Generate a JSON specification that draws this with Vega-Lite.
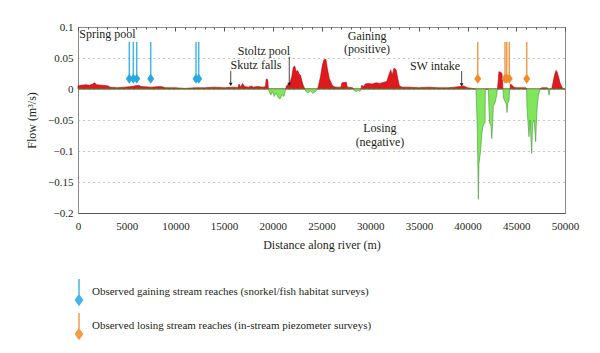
{
  "$schema": "https://vega.github.io/schema/vega-lite/v6.json",
  "width": 487,
  "height": 186,
  "autosize": {"type": "none"},
  "padding": {"left": 78, "top": 27, "right": 35, "bottom": 140},
  "background": "white",
  "config": {
    "font": "Liberation Serif",
    "view": {"stroke": "#8a8a8a", "strokeWidth": 1},
    "axis": {"labelFont": "Liberation Serif", "titleFont": "Liberation Serif", "labelFontSize": 11, "titleFontSize": 12, "labelColor": "#231f20", "titleColor": "#231f20", "titleFontWeight": "normal"}
  },
  "datasets": {
    "profile": [
      {"d": 0, "g": 0.005, "l": 0}, {"d": 300, "g": 0.006, "l": 0}, {"d": 800, "g": 0.007, "l": 0}, {"d": 1200, "g": 0.006, "l": 0},
      {"d": 1500, "g": 0.008, "l": 0}, {"d": 1700, "g": 0.01, "l": 0}, {"d": 1900, "g": 0.007, "l": 0}, {"d": 2500, "g": 0.006, "l": 0},
      {"d": 3100, "g": 0.005, "l": 0}, {"d": 3300, "g": 0.003, "l": 0}, {"d": 4000, "g": 0.002, "l": 0}, {"d": 4800, "g": 0.003, "l": 0},
      {"d": 5500, "g": 0.004, "l": 0}, {"d": 6200, "g": 0.006, "l": 0}, {"d": 6500, "g": 0.004, "l": 0}, {"d": 7500, "g": 0.003, "l": 0},
      {"d": 8500, "g": 0.004, "l": 0}, {"d": 9000, "g": 0.002, "l": 0}, {"d": 10000, "g": 0.002, "l": 0}, {"d": 11000, "g": 0.001, "l": 0},
      {"d": 12000, "g": 0.002, "l": 0}, {"d": 13000, "g": 0.002, "l": 0}, {"d": 14000, "g": 0.003, "l": 0}, {"d": 15000, "g": 0.002, "l": 0},
      {"d": 16000, "g": 0.003, "l": 0}, {"d": 16400, "g": 0.002, "l": 0}, {"d": 16550, "g": 0.008, "l": 0}, {"d": 16700, "g": 0.003, "l": 0},
      {"d": 16900, "g": 0.009, "l": 0}, {"d": 17100, "g": 0.004, "l": 0}, {"d": 17500, "g": 0.003, "l": 0}, {"d": 17800, "g": 0.005, "l": 0},
      {"d": 18000, "g": 0.003, "l": 0}, {"d": 18500, "g": 0.004, "l": 0}, {"d": 19000, "g": 0.003, "l": 0}, {"d": 19250, "g": 0.004, "l": 0},
      {"d": 19320, "g": 0.016, "l": 0}, {"d": 19480, "g": 0.015, "l": 0}, {"d": 19550, "g": 0, "l": 0},
      {"d": 19650, "g": 0, "l": -0.005}, {"d": 19800, "g": 0, "l": -0.01}, {"d": 19950, "g": 0, "l": -0.004}, {"d": 20150, "g": 0, "l": -0.012},
      {"d": 20350, "g": 0, "l": -0.006}, {"d": 20550, "g": 0, "l": -0.014}, {"d": 20750, "g": 0, "l": -0.016}, {"d": 20950, "g": 0, "l": -0.009},
      {"d": 21150, "g": 0, "l": -0.012}, {"d": 21320, "g": 0, "l": 0},
      {"d": 21400, "g": 0.005, "l": 0}, {"d": 21600, "g": 0.008, "l": 0}, {"d": 21800, "g": 0.012, "l": 0}, {"d": 21950, "g": 0.02, "l": 0},
      {"d": 22100, "g": 0.035, "l": 0}, {"d": 22250, "g": 0.037, "l": 0}, {"d": 22400, "g": 0.028, "l": 0}, {"d": 22550, "g": 0.03, "l": 0},
      {"d": 22700, "g": 0.024, "l": 0}, {"d": 22850, "g": 0.022, "l": 0}, {"d": 23000, "g": 0.012, "l": 0}, {"d": 23150, "g": 0.005, "l": 0},
      {"d": 23300, "g": 0, "l": 0},
      {"d": 23400, "g": 0, "l": -0.004}, {"d": 23600, "g": 0, "l": -0.006}, {"d": 23900, "g": 0, "l": -0.003}, {"d": 24100, "g": 0, "l": -0.007},
      {"d": 24400, "g": 0, "l": -0.004}, {"d": 24600, "g": 0, "l": 0},
      {"d": 24700, "g": 0.006, "l": 0}, {"d": 24900, "g": 0.02, "l": 0}, {"d": 25100, "g": 0.039, "l": 0}, {"d": 25250, "g": 0.047, "l": 0},
      {"d": 25450, "g": 0.048, "l": 0}, {"d": 25600, "g": 0.033, "l": 0}, {"d": 25800, "g": 0.017, "l": 0}, {"d": 26050, "g": 0.008, "l": 0},
      {"d": 26200, "g": 0.004, "l": 0}, {"d": 26500, "g": 0.003, "l": 0}, {"d": 27000, "g": 0.003, "l": 0}, {"d": 27100, "g": 0.01, "l": 0},
      {"d": 27550, "g": 0.011, "l": 0}, {"d": 27650, "g": 0.003, "l": 0}, {"d": 28200, "g": 0.002, "l": 0}, {"d": 28300, "g": 0, "l": 0},
      {"d": 28400, "g": 0, "l": -0.003}, {"d": 28600, "g": 0, "l": -0.004}, {"d": 28800, "g": 0, "l": -0.002}, {"d": 28950, "g": 0, "l": -0.004},
      {"d": 29050, "g": 0, "l": 0},
      {"d": 29130, "g": 0.006, "l": 0}, {"d": 29300, "g": 0.004, "l": 0}, {"d": 29500, "g": 0.008, "l": 0}, {"d": 29800, "g": 0.009, "l": 0},
      {"d": 30200, "g": 0.008, "l": 0}, {"d": 30600, "g": 0.01, "l": 0}, {"d": 31000, "g": 0.009, "l": 0}, {"d": 31400, "g": 0.011, "l": 0},
      {"d": 31700, "g": 0.012, "l": 0}, {"d": 31970, "g": 0.025, "l": 0}, {"d": 32110, "g": 0.031, "l": 0}, {"d": 32250, "g": 0.022, "l": 0},
      {"d": 32450, "g": 0.034, "l": 0}, {"d": 32660, "g": 0.031, "l": 0}, {"d": 32830, "g": 0.017, "l": 0}, {"d": 33000, "g": 0.005, "l": 0},
      {"d": 33300, "g": 0.003, "l": 0}, {"d": 34000, "g": 0.003, "l": 0}, {"d": 35000, "g": 0.002, "l": 0}, {"d": 36000, "g": 0.003, "l": 0},
      {"d": 37000, "g": 0.002, "l": 0}, {"d": 38000, "g": 0.002, "l": 0}, {"d": 38700, "g": 0.003, "l": 0}, {"d": 39200, "g": 0.004, "l": 0},
      {"d": 39600, "g": 0.005, "l": 0}, {"d": 40000, "g": 0.002, "l": 0}, {"d": 40500, "g": 0.001, "l": 0}, {"d": 40860, "g": 0, "l": 0},
      {"d": 40970, "g": 0, "l": -0.05}, {"d": 41040, "g": 0, "l": -0.11}, {"d": 41100, "g": 0, "l": -0.178}, {"d": 41170, "g": 0, "l": -0.12},
      {"d": 41330, "g": 0, "l": -0.1}, {"d": 41480, "g": 0, "l": -0.07}, {"d": 41610, "g": 0, "l": -0.058}, {"d": 41790, "g": 0, "l": -0.055},
      {"d": 41820, "g": 0, "l": 0}, {"d": 42130, "g": 0, "l": 0},
      {"d": 42170, "g": 0, "l": -0.02}, {"d": 42250, "g": 0, "l": -0.055}, {"d": 42400, "g": 0, "l": -0.058}, {"d": 42480, "g": 0, "l": -0.08},
      {"d": 42560, "g": 0, "l": -0.06}, {"d": 42640, "g": 0, "l": -0.028}, {"d": 42810, "g": 0, "l": -0.022}, {"d": 42990, "g": 0, "l": -0.01},
      {"d": 43050, "g": 0, "l": 0}, {"d": 43070, "g": 0, "l": 0},
      {"d": 43150, "g": 0.015, "l": 0}, {"d": 43220, "g": 0.028, "l": 0}, {"d": 43380, "g": 0.027, "l": 0}, {"d": 43530, "g": 0.025, "l": 0},
      {"d": 43600, "g": 0.01, "l": 0}, {"d": 43630, "g": 0, "l": 0},
      {"d": 43690, "g": 0, "l": -0.015}, {"d": 43840, "g": 0, "l": -0.02}, {"d": 43990, "g": 0, "l": -0.025}, {"d": 44045, "g": 0, "l": -0.038},
      {"d": 44120, "g": 0, "l": -0.022}, {"d": 44250, "g": 0, "l": -0.02}, {"d": 44300, "g": 0, "l": -0.005}, {"d": 44350, "g": 0, "l": 0},
      {"d": 44400, "g": 0.008, "l": 0}, {"d": 44560, "g": 0.006, "l": 0}, {"d": 44760, "g": 0.003, "l": 0}, {"d": 44970, "g": 0.002, "l": 0},
      {"d": 46000, "g": 0.002, "l": 0}, {"d": 46050, "g": 0, "l": 0},
      {"d": 46100, "g": 0, "l": -0.03}, {"d": 46170, "g": 0, "l": -0.047}, {"d": 46300, "g": 0, "l": -0.077}, {"d": 46410, "g": 0, "l": -0.05},
      {"d": 46580, "g": 0, "l": -0.104}, {"d": 46680, "g": 0, "l": -0.055}, {"d": 46820, "g": 0, "l": -0.05}, {"d": 46990, "g": 0, "l": -0.085},
      {"d": 47070, "g": 0, "l": -0.05}, {"d": 47160, "g": 0, "l": -0.025}, {"d": 47280, "g": 0, "l": -0.01}, {"d": 47430, "g": 0, "l": 0},
      {"d": 47600, "g": 0.002, "l": 0}, {"d": 48200, "g": 0.002, "l": 0}, {"d": 48255, "g": 0, "l": 0},
      {"d": 48357, "g": 0, "l": -0.01}, {"d": 48460, "g": 0, "l": 0}, {"d": 48635, "g": 0, "l": 0},
      {"d": 48770, "g": 0.01, "l": 0}, {"d": 48920, "g": 0.022, "l": 0}, {"d": 49080, "g": 0.03, "l": 0}, {"d": 49180, "g": 0.028, "l": 0},
      {"d": 49330, "g": 0.02, "l": 0}, {"d": 49490, "g": 0.01, "l": 0}, {"d": 49690, "g": 0.003, "l": 0}, {"d": 49850, "g": 0, "l": 0},
      {"d": 50000, "g": 0, "l": 0}
    ],
    "obs": [
      {"d": 5267, "type": "Observed gaining stream reaches (snorkel/fish habitat surveys)"},
      {"d": 5678, "type": "Observed gaining stream reaches (snorkel/fish habitat surveys)"},
      {"d": 6027, "type": "Observed gaining stream reaches (snorkel/fish habitat surveys)"},
      {"d": 7464, "type": "Observed gaining stream reaches (snorkel/fish habitat surveys)"},
      {"d": 12115, "type": "Observed gaining stream reaches (snorkel/fish habitat surveys)"},
      {"d": 12392, "type": "Observed gaining stream reaches (snorkel/fish habitat surveys)"},
      {"d": 41040, "type": "Observed losing stream reaches (in-stream piezometer surveys)"},
      {"d": 43840, "type": "Observed losing stream reaches (in-stream piezometer surveys)"},
      {"d": 44015, "type": "Observed losing stream reaches (in-stream piezometer surveys)"},
      {"d": 44280, "type": "Observed losing stream reaches (in-stream piezometer surveys)"},
      {"d": 46070, "type": "Observed losing stream reaches (in-stream piezometer surveys)"}
    ],
    "labels": [
      {"d": 3030, "q": 0.088, "text": "Spring pool"},
      {"d": 19100, "q": 0.062, "text": "Stoltz pool"},
      {"d": 18280, "q": 0.039, "text": "Skutz falls"},
      {"d": 29680, "q": 0.0855, "text": "Gaining"},
      {"d": 29680, "q": 0.064, "text": "(positive)"},
      {"d": 36650, "q": 0.037, "text": "SW intake"},
      {"d": 31000, "q": -0.0634, "text": "Losing"},
      {"d": 31000, "q": -0.086, "text": "(negative)"}
    ],
    "arrows": [
      {"d": 15680, "from": 0.029, "to": 0.0075},
      {"d": 21690, "from": 0.052, "to": 0.0075},
      {"d": 39390, "from": 0.029, "to": 0.0065}
    ]
  },
  "resolve": {"axis": {"x": "independent", "y": "independent"}},
  "layer": [
    {
      "data": {"name": "profile"},
      "mark": {"type": "area", "color": "#de1a1f", "stroke": "#a80c10", "strokeWidth": 0.6, "interpolate": "linear"},
      "encoding": {
        "x": {"field": "d", "type": "quantitative", "scale": {"domain": [0, 50000], "nice": false, "zero": false},
          "axis": {"values": [0, 5000, 10000, 15000, 20000, 25000, 30000, 35000, 40000, 45000, 50000], "format": "d", "ticks": false, "labelPadding": 7, "labelFlush": false, "labelOverlap": false, "domain": true, "domainColor": "#555555", "grid": false, "title": "Distance along river (m)", "titleY": 31, "titleBaseline": "middle"}},
        "y": {"field": "g", "type": "quantitative", "scale": {"domain": [-0.2, 0.1], "nice": false, "zero": false},
          "axis": {"values": [-0.2, -0.15, -0.1, -0.05, 0, 0.05, 0.1], "format": ".2~f", "ticks": false, "domain": false, "grid": true, "gridDash": [1, 4], "gridColor": "#8f8f8f", "gridWidth": 1, "labelPadding": 5, "labelOverlap": false, "title": "Flow (m³/s)", "titleX": -47, "titleY": 93, "titleAngle": -90, "titleAlign": "center", "titleBaseline": "middle"}}
      }
    },
    {
      "data": {"name": "profile"},
      "mark": {"type": "area", "color": "#80e65c", "stroke": "#47963a", "strokeWidth": 0.6, "interpolate": "linear"},
      "encoding": {
        "x": {"field": "d", "type": "quantitative",
          "axis": {"values": [0, 1000, 2000, 3000, 4000, 5000, 6000, 7000, 8000, 9000, 10000, 11000, 12000, 13000, 14000, 15000, 16000, 17000, 18000, 19000, 20000, 21000, 22000, 23000, 24000, 25000, 26000, 27000, 28000, 29000, 30000, 31000, 32000, 33000, 34000, 35000, 36000, 37000, 38000, 39000, 40000, 41000, 42000, 43000, 44000, 45000, 46000, 47000, 48000, 49000, 50000], "labels": false, "domain": false, "grid": false, "ticks": true, "tickSize": -2, "tickColor": "#555555", "title": null}},
        "y": {"field": "l", "type": "quantitative", "axis": null}
      }
    },
    {
      "mark": {"type": "rule", "color": "#1a1a1a", "strokeWidth": 1},
      "encoding": {"y": {"datum": 0, "type": "quantitative", "axis": null}}
    },
    {
      "data": {"name": "obs"},
      "mark": {"type": "rule", "strokeWidth": 1.5, "opacity": 0.85},
      "encoding": {
        "x": {"field": "d", "type": "quantitative",
          "axis": {"values": [0, 5000, 10000, 15000, 20000, 25000, 30000, 35000, 40000, 45000, 50000], "labels": false, "domain": false, "grid": false, "ticks": true, "tickSize": -4, "tickColor": "#555555", "title": null}},
        "y": {"datum": 0.076, "type": "quantitative", "axis": null},
        "y2": {"datum": 0.0165},
        "color": {"field": "type", "type": "nominal",
          "scale": {"domain": ["Observed gaining stream reaches (snorkel/fish habitat surveys)", "Observed losing stream reaches (in-stream piezometer surveys)"], "range": ["#27a9e1", "#f08b2b"]},
          "legend": {"title": null, "orient": "none", "legendX": -13, "legendY": 251, "direction": "vertical",
            "symbolType": "M0,-1L0,0.3M0,0.24L0.27,0.62L0,1L-0.27,0.62Z", "symbolSize": 676, "symbolStrokeWidth": 1.5,
            "labelFont": "Liberation Serif", "labelFontSize": 11, "labelColor": "#231f20", "labelLimit": 500, "labelOffset": -1, "rowPadding": 2, "padding": 0,
            "encode": {"symbols": {"update": {"shape": {"value": "M0,-1L0,0.3M0,0.24L0.27,0.62L0,1L-0.27,0.62Z"}, "size": {"value": 676}, "fill": {"scale": "color", "field": "value"}, "stroke": {"scale": "color", "field": "value"}, "strokeWidth": {"value": 1.5}, "opacity": {"value": 1}}}}}
        }
      }
    },
    {
      "data": {"name": "obs"},
      "mark": {"type": "point", "filled": true, "shape": "M0,-1L0.7,0L0,1L-0.7,0Z", "size": 100, "opacity": 1},
      "encoding": {
        "x": {"field": "d", "type": "quantitative", "axis": null},
        "y": {"datum": 0.0165, "type": "quantitative", "axis": null},
        "color": {"field": "type", "type": "nominal",
          "scale": {"domain": ["Observed gaining stream reaches (snorkel/fish habitat surveys)", "Observed losing stream reaches (in-stream piezometer surveys)"], "range": ["#27a9e1", "#f08b2b"]},
          "legend": {"title": null, "orient": "none", "legendX": -13, "legendY": 251, "direction": "vertical",
            "symbolType": "M0,-1L0,0.3M0,0.24L0.27,0.62L0,1L-0.27,0.62Z", "symbolSize": 676, "symbolStrokeWidth": 1.5,
            "labelFont": "Liberation Serif", "labelFontSize": 11, "labelColor": "#231f20", "labelLimit": 500, "labelOffset": -1, "rowPadding": 2, "padding": 0,
            "encode": {"symbols": {"update": {"shape": {"value": "M0,-1L0,0.3M0,0.24L0.27,0.62L0,1L-0.27,0.62Z"}, "size": {"value": 676}, "fill": {"scale": "color", "field": "value"}, "stroke": {"scale": "color", "field": "value"}, "strokeWidth": {"value": 1.5}, "opacity": {"value": 1}}}}}
        }
      }
    },
    {
      "data": {"name": "arrows"},
      "mark": {"type": "rule", "color": "#1a1a1a", "strokeWidth": 0.8},
      "encoding": {
        "x": {"field": "d", "type": "quantitative", "axis": null},
        "y": {"field": "from", "type": "quantitative", "axis": null},
        "y2": {"field": "to"}
      }
    },
    {
      "data": {"name": "arrows"},
      "mark": {"type": "point", "shape": "triangle-down", "filled": true, "size": 14, "color": "#1a1a1a", "opacity": 1},
      "encoding": {
        "x": {"field": "d", "type": "quantitative", "axis": null},
        "y": {"field": "to", "type": "quantitative", "axis": null}
      }
    },
    {
      "data": {"name": "labels"},
      "mark": {"type": "text", "font": "Liberation Serif", "fontSize": 12, "color": "#231f20", "align": "center", "baseline": "middle"},
      "encoding": {
        "x": {"field": "d", "type": "quantitative", "axis": null},
        "y": {"field": "q", "type": "quantitative", "axis": null},
        "text": {"field": "text"}
      }
    }
  ]
}
